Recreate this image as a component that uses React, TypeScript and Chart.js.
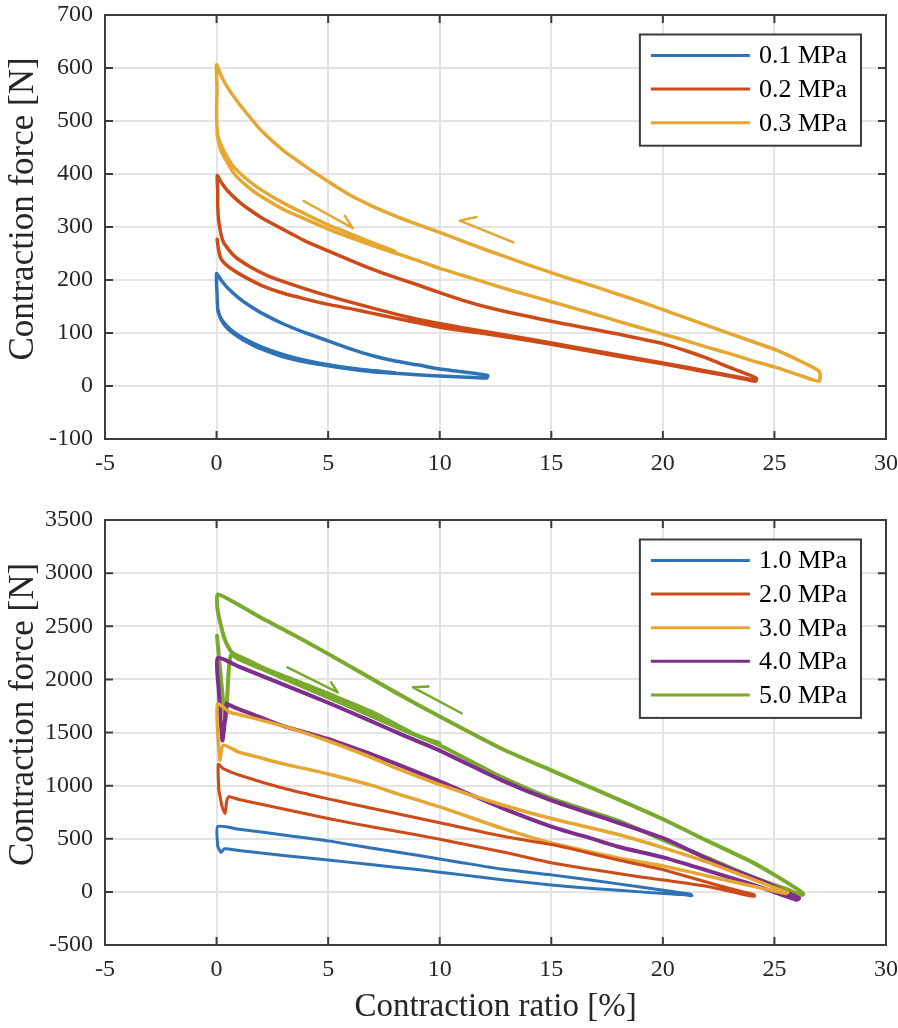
import React, { useEffect, useRef } from "react";
import { Chart, registerables } from "chart.js";

Chart.register(...registerables);

type Pt = [number, number];

const FONT = "'Liberation Serif', 'Times New Roman', Times, serif";
const TEXT = "#262626";
const FRAME = "#3c3c3c";
const GRID = "#e4e4e4";

// ---------- tick values ----------
const xTicks = [-5, 0, 5, 10, 15, 20, 25, 30];
const yTicksTop = [-100, 0, 100, 200, 300, 400, 500, 600, 700];
const yTicksBottom = [-500, 0, 500, 1000, 1500, 2000, 2500, 3000, 3500];

// ---------- labels & colours ----------
const xTitle = "Contraction ratio [%]";
const yTitle = "Contraction force [N]";
const topLabels = ["0.1 MPa", "0.2 MPa", "0.3 MPa"];
const bottomLabels = ["1.0 MPa", "2.0 MPa", "3.0 MPa", "4.0 MPa", "5.0 MPa"];
const seriesColors = ["#2e73b5", "#cd4b19", "#e6a632", "#7e2f8e", "#79aa2d"];

// ---------- top panel: contraction ratio [%], force [N] ----------
const loop01: Pt[] = [
  [0.05, 145], [0.2, 125], [0.5, 108], [1, 92], [1.5, 80], [2, 70], [3, 55], [4, 45], [5, 38], [6, 32], [7, 27], [8, 24], [9, 21], [10, 19], [11, 17], [12.1, 15],
  [12.15, 20], [11, 27], [10, 32], [9, 40], [8, 47], [7, 57], [6, 70], [5, 85], [4, 100], [3, 117], [2, 138], [1.5, 151], [1, 166], [0.5, 185], [0.2, 200], [0, 212],
  [0.02, 175], [0.05, 145], [0.1, 136], [0.3, 121], [0.7, 104], [1.2, 90], [2, 74], [3, 59], [4, 48], [5, 40], [6.5, 31], [8, 25],
];
const loop02: Pt[] = [
  [0.02, 277], [0.1, 255], [0.2, 240], [0.5, 226], [1, 212], [2, 190], [3, 175], [4, 164], [5, 154], [6, 146], [7, 137], [8, 128], [10, 111], [12, 99], [14, 86], [16, 71], [18, 56], [20, 42], [22, 26], [23.3, 16], [24.15, 9],
  [24.2, 14], [23.8, 22], [23, 35], [22, 52], [21, 67], [20, 80], [19, 89], [18, 98], [17, 106], [16, 114], [15, 122], [14, 131], [13, 140], [12, 150], [11, 162], [10, 176], [9, 191], [8, 205], [7, 220], [6, 237], [5, 255], [4, 273], [3, 295], [2, 318], [1.5, 332], [1, 348], [0.5, 368], [0.2, 385], [0.03, 397],
  [0.05, 370], [0.05, 343], [0.1, 310], [0.3, 272], [0.8, 245], [1.5, 225], [2.3, 208], [3.5, 190], [5, 170], [7, 147], [9, 126], [11, 110], [13, 96], [15, 81], [17, 66], [19, 51], [21, 36], [23, 20], [24.1, 11],
];
const loop03: Pt[] = [
  [0.02, 476], [0.1, 460], [0.2, 444], [0.5, 420], [0.8, 400], [1.2, 383], [1.7, 366], [2.3, 350], [3, 333], [3.8, 318], [5, 296], [6, 280], [7, 265], [8, 251], [9, 237], [10, 222], [11, 209], [12, 196], [13, 183], [14, 171], [15, 159], [16, 147], [17, 135], [18, 122], [19, 110], [20, 98], [21, 86], [22, 73], [23, 61], [24, 48], [25, 36], [26, 22], [26.7, 12], [27, 9],
  [27.05, 18], [27, 28], [26.5, 40], [25.2, 66], [24, 84], [23, 99], [22, 114], [21, 129], [20, 144], [19, 159], [18, 173], [17, 187], [16, 200], [15, 214], [14, 228], [13, 243], [12, 258], [11, 274], [10, 290], [9, 305], [8, 321], [7, 339], [6, 360], [5, 386], [4, 414], [3, 444], [2, 482], [1.5, 507], [1, 533], [0.5, 563], [0.2, 586], [0, 606],
  [0.02, 560], [0, 520], [0.03, 480], [0.1, 466], [0.25, 450], [0.5, 430], [0.8, 412], [1.3, 392], [2, 370], [3, 345], [4, 324], [5, 304], [6, 287], [7, 270], [8, 254],
];
const topArrowDown: Pt[] = [[3.9, 349], [6.1, 298], [5.75, 321]];
const topArrowUp: Pt[] = [[13.3, 271], [10.9, 312], [11.65, 319]];

// ---------- bottom panel ----------
const loop10: Pt[] = [
  [0.05, 430], [0.2, 372], [0.35, 405], [1, 390], [2, 365], [3, 342], [5, 300], [7, 255], [9, 210], [10, 185], [11, 160], [12.78, 115], [15, 65], [17, 30], [19, 0], [20.1, -15], [21, -28], [21.3, -36],
  [21.25, -22], [20.1, 12], [19, 45], [17, 105], [15, 160], [12.78, 215], [11, 275], [9, 345], [7, 410], [5, 480], [3, 535], [1, 590], [0.05, 615], [0.05, 430],
];
const loop20: Pt[] = [
  [0.1, 960], [0.25, 800], [0.38, 740], [0.45, 850], [0.55, 895], [1, 870], [3, 780], [5, 690], [7, 610], [9, 535], [10, 495], [12.78, 378], [15, 275], [17, 205], [19, 140], [20.1, 110], [22, 50], [23.5, -20], [24.1, -42],
  [24.1, -28], [23.6, 0], [22.5, 60], [21, 150], [20.1, 204], [18, 300], [16, 400], [15, 445], [12.78, 525], [10, 650], [8, 740], [6, 830], [5, 875], [3, 975], [1, 1100], [0.3, 1160], [0.08, 1200], [0.1, 960],
];
const loop30: Pt[] = [
  [0.15, 1240], [0.3, 1380], [1, 1315], [2, 1260], [3, 1205], [5, 1110], [7, 1000], [8, 930], [10, 800], [12.78, 600], [15, 460], [18, 320], [20.1, 240], [22, 150], [24, 55], [25.5, -15],
  [25.6, -5], [25, 40], [24, 120], [23, 200], [22, 280], [20.1, 410], [18, 540], [15, 690], [12.78, 820], [10, 1010], [8, 1170], [7, 1260], [5, 1420], [3, 1560], [1, 1670], [0.6, 1690], [0.05, 1770], [0.05, 1500], [0.15, 1240],
];
const loop40: Pt[] = [
  [0.45, 1770], [1, 1720], [2, 1640], [3, 1560], [5, 1440], [7, 1290], [8, 1210], [10, 1040], [12.78, 790], [15, 615], [17, 490], [18, 425], [20.1, 320], [22, 200], [24, 70], [25.5, -40], [26, -75],
  [26.1, -60], [25.5, 0], [24.5, 100], [23, 220], [22, 310], [20.1, 500], [18, 650], [15, 862], [12.78, 1050], [10, 1330], [8.3, 1480], [7, 1600], [5, 1780], [3, 1950], [1, 2120], [0.05, 2200], [0.1, 1900], [0.26, 1425], [0.45, 1770],
];
const loop50: Pt[] = [
  [0.02, 2410], [0.2, 2000], [0.4, 1613], [0.55, 2100], [0.65, 2230], [1, 2190], [2, 2100], [3, 2010], [5, 1830], [7, 1650], [8.3, 1530], [10, 1380], [12.78, 1080], [15, 880], [18, 670], [20.1, 480], [22, 320], [24, 140], [25.5, 30], [26.2, -30],
  [26.3, -20], [26, 30], [25, 160], [24, 280], [22, 480], [20.1, 674], [18, 870], [15, 1143], [12.78, 1347], [10, 1650], [8, 1880], [5, 2240], [3, 2470], [2, 2580], [1, 2700], [0.05, 2800],
  [0.05, 2650], [0.25, 2460], [0.4, 2360], [0.7, 2250], [1.5, 2170], [2.3, 2090], [4, 1950], [5, 1865], [7, 1690], [9, 1470], [10, 1400],
];
const bottomArrowDown: Pt[] = [[3.18, 2113], [5.43, 1878], [5.13, 1972]];
const bottomArrowUp: Pt[] = [[10.98, 1681], [8.8, 1925], [9.5, 1932]];

// ---------- helpers ----------
const toXY = (pts: Pt[]) => pts.map(([x, y]) => ({ x, y }));

const lineDs = (label: string, pts: Pt[], color: string, width: number) => ({
  label,
  data: toXY(pts),
  borderColor: color,
  backgroundColor: color,
  borderWidth: width,
  pointRadius: 0,
  tension: 0.2,
  fill: false,
  borderJoinStyle: "round" as const,
  borderCapStyle: "round" as const,
});

const framePlugin = {
  id: "frame",
  afterDraw(chart: any, _args: any, opts: any) {
    const { ctx, chartArea: a, scales } = chart;
    ctx.save();
    // inward ticks
    ctx.strokeStyle = FRAME;
    ctx.lineWidth = 2;
    const tl = 8;
    ctx.beginPath();
    scales.x.ticks.forEach((t: any) => {
      const px = scales.x.getPixelForValue(t.value);
      ctx.moveTo(px, a.bottom);
      ctx.lineTo(px, a.bottom - tl);
      ctx.moveTo(px, a.top);
      ctx.lineTo(px, a.top + tl);
    });
    scales.y.ticks.forEach((t: any) => {
      const py = scales.y.getPixelForValue(t.value);
      ctx.moveTo(a.left, py);
      ctx.lineTo(a.left + tl, py);
      ctx.moveTo(a.right, py);
      ctx.lineTo(a.right - tl, py);
    });
    ctx.stroke();
    ctx.strokeRect(a.left, a.top, a.right - a.left, a.bottom - a.top);

    // y-axis title
    ctx.save();
    ctx.translate(24, (a.top + a.bottom) / 2 - 18);
    ctx.rotate(-Math.PI / 2);
    ctx.font = `35px ${FONT}`;
    ctx.fillStyle = TEXT;
    ctx.textAlign = "center";
    ctx.textBaseline = "middle";
    ctx.fillText(opts.yTitle || "", 0, 0);
    ctx.restore();

    // legend
    const items: { label: string; color: string }[] = opts.items || [];
    ctx.font = `26px ${FONT}`;
    let tw = 0;
    items.forEach((it) => (tw = Math.max(tw, ctx.measureText(it.label).width)));
    const boxW = 119 + tw + 14;
    const rowH = 33.6;
    const boxH = 21 + rowH * (items.length - 1) + 23;
    const bx = a.right - 25 - boxW;
    const by = a.top + 19.5;
    ctx.fillStyle = "#ffffff";
    ctx.fillRect(bx, by, boxW, boxH);
    ctx.strokeStyle = FRAME;
    ctx.lineWidth = 2;
    ctx.strokeRect(bx, by, boxW, boxH);
    items.forEach((it, i) => {
      const cy = by + 21 + i * rowH;
      ctx.strokeStyle = it.color;
      ctx.lineWidth = 3;
      ctx.beginPath();
      ctx.moveTo(bx + 11, cy);
      ctx.lineTo(bx + 110, cy);
      ctx.stroke();
      ctx.fillStyle = "#000000";
      ctx.textAlign = "left";
      ctx.textBaseline = "middle";
      ctx.fillText(it.label, bx + 119, cy + 1);
    });
    ctx.restore();
  },
};

function buildConfig(
  datasets: any[],
  yTicks: number[],
  items: { label: string; color: string }[],
  padTop: number,
  xAxisHeight: number,
  showXTitle: boolean
) {
  return {
    type: "line" as const,
    data: { datasets },
    plugins: [framePlugin],
    options: {
      animation: false as const,
      responsive: false,
      maintainAspectRatio: false,
      devicePixelRatio: 1,
      events: [],
      layout: { padding: { top: padTop, right: 12, left: 0, bottom: 0 } },
      plugins: {
        legend: { display: false },
        tooltip: { enabled: false },
        frame: { items, yTitle },
      },
      scales: {
        x: {
          type: "linear" as const,
          min: xTicks[0],
          max: xTicks[xTicks.length - 1],
          afterBuildTicks: (s: any) => {
            s.ticks = xTicks.map((v) => ({ value: v }));
          },
          afterFit: (s: any) => {
            s.height = xAxisHeight;
            s.paddingLeft = 0;
            s.paddingRight = 0;
          },
          ticks: {
            callback: (v: any) => String(v),
            font: { family: FONT, size: 24 },
            color: TEXT,
            padding: 10,
            maxRotation: 0,
            autoSkip: false,
          },
          grid: { color: GRID, lineWidth: 2, drawTicks: false },
          border: { display: false },
          title: {
            display: showXTitle,
            text: xTitle,
            font: { family: FONT, size: 33 },
            color: TEXT,
            padding: { top: 0, bottom: 1 },
          },
        },
        y: {
          type: "linear" as const,
          min: yTicks[0],
          max: yTicks[yTicks.length - 1],
          afterBuildTicks: (s: any) => {
            s.ticks = yTicks.map((v) => ({ value: v }));
          },
          afterFit: (s: any) => {
            s.width = 105;
            s.paddingTop = 0;
            s.paddingBottom = 0;
          },
          ticks: {
            callback: (v: any) => String(v),
            font: { family: FONT, size: 24 },
            color: TEXT,
            padding: 12,
            autoSkip: false,
          },
          grid: { color: GRID, lineWidth: 2, drawTicks: false },
          border: { display: false },
          title: { display: false },
        },
      },
    },
  };
}

function ChartCanvas({ width, height, config }: { width: number; height: number; config: () => any }) {
  const ref = useRef<HTMLCanvasElement | null>(null);
  useEffect(() => {
    if (!ref.current) return;
    const chart = new Chart(ref.current, config());
    return () => chart.destroy();
  }, []);
  return <canvas ref={ref} width={width} height={height} style={{ display: "block", width, height }} />;
}

export default function App() {
  const topConfig = () =>
    buildConfig(
      [
        lineDs(topLabels[0], loop01, seriesColors[0], 3.5),
        lineDs(topLabels[1], loop02, seriesColors[1], 3.5),
        lineDs(topLabels[2], loop03, seriesColors[2], 3.5),
        { ...lineDs("arrow-a", topArrowDown, seriesColors[2], 2.5), tension: 0 },
        { ...lineDs("arrow-b", topArrowUp, seriesColors[2], 2.5), tension: 0 },
      ],
      yTicksTop,
      topLabels.map((l, i) => ({ label: l, color: seriesColors[i] })),
      15,
      51,
      false
    );
  const bottomConfig = () =>
    buildConfig(
      [
        lineDs(bottomLabels[0], loop10, seriesColors[0], 3),
        lineDs(bottomLabels[1], loop20, seriesColors[1], 3),
        lineDs(bottomLabels[2], loop30, seriesColors[2], 3.5),
        lineDs(bottomLabels[3], loop40, seriesColors[3], 4),
        lineDs(bottomLabels[4], loop50, seriesColors[4], 4),
        { ...lineDs("arrow-c", bottomArrowDown, seriesColors[4], 2.5), tension: 0 },
        { ...lineDs("arrow-d", bottomArrowUp, seriesColors[4], 2.5), tension: 0 },
      ],
      yTicksBottom,
      bottomLabels.map((l, i) => ({ label: l, color: seriesColors[i] })),
      30,
      83,
      true
    );
  return (
    <div style={{ position: "absolute", left: 0, top: 0, width: 898, height: 1028, background: "#ffffff" }}>
      <ChartCanvas width={898} height={490} config={topConfig} />
      <ChartCanvas width={898} height={538} config={bottomConfig} />
    </div>
  );
}
